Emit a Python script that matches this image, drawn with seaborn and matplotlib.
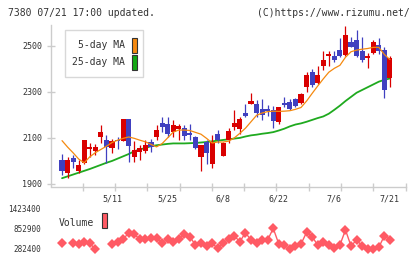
import numpy as np
import pandas as pd
import matplotlib
matplotlib.use("Agg")
import matplotlib.pyplot as plt
import seaborn as sns
from matplotlib.patches import Rectangle

# ---------------- data ----------------
idx = list(range(61))
opens = [2007, 2004, 1949, 2014, 1957, 1989, 2051, 2043, 2104, 2090,
         2054, 2093, 2086, 2181, 2018, 2040, 2044, 2083, 2104, 2166,
         2159, 2126, 2137, 2145, 2122, 2102, 2018, 2083, 1985, 2119,
         2021, 2090, 2148, 2138, 2208, 2249, 2246, 2227, 2227, 2220,
         2167, 2251, 2256, 2270, 2251, 2320, 2385, 2338, 2410, 2454,
         2457, 2483, 2459, 2518, 2526, 2475, 2446, 2467, 2505, 2483, 2361]
highs = [2007, 2030, 2018, 2025, 2004, 2093, 2078, 2072, 2155, 2112,
         2097, 2104, 2181, 2181, 2086, 2068, 2093, 2097, 2155, 2191,
         2191, 2176, 2159, 2158, 2159, 2107, 2068, 2090, 2112, 2133,
         2080, 2141, 2223, 2191, 2249, 2294, 2263, 2267, 2241, 2237,
         2234, 2277, 2270, 2275, 2294, 2385, 2400, 2414, 2475, 2476,
         2475, 2534, 2587, 2536, 2568, 2536, 2467, 2526, 2532, 2493, 2454]
lows = [2007, 1939, 1925, 1968, 1946, 1986, 2018, 2025, 2076, 1992,
        2033, 2050, 2086, 1996, 1996, 2004, 2033, 2037, 2093, 2126,
        2104, 2104, 2090, 2093, 2090, 2051, 1957, 1986, 1970, 2076,
        2021, 2078, 2133, 2119, 2191, 2246, 2191, 2176, 2194, 2143,
        2159, 2234, 2220, 2234, 2249, 2299, 2323, 2335, 2395, 2414,
        2428, 2453, 2456, 2493, 2450, 2431, 2402, 2465, 2465, 2273, 2320]
closes = [2007, 1957, 2004, 1996, 1982, 2090, 2061, 2061, 2126, 2059,
          2086, 2086, 2181, 2065, 2047, 2054, 2068, 2061, 2133, 2148,
          2119, 2155, 2151, 2107, 2112, 2057, 2068, 2033, 2083, 2090,
          2078, 2129, 2165, 2180, 2194, 2259, 2210, 2198, 2217, 2173,
          2234, 2241, 2224, 2237, 2289, 2375, 2328, 2371, 2436, 2462,
          2436, 2457, 2548, 2496, 2457, 2436, 2454, 2518, 2479, 2306, 2446]
ma5 = [np.nan, 2088, 2060, 2035, 2008, 1992, 2018, 2036, 2050, 2064,
       2080, 2090, 2098, 2104, 2098, 2090, 2083, 2072, 2061, 2075,
       2100, 2125, 2134, 2134, 2132, 2124, 2116, 2098, 2078, 2082,
       2082, 2086, 2100, 2120, 2142, 2170, 2198, 2208, 2214, 2216,
       2215, 2216, 2218, 2224, 2232, 2260, 2293, 2325, 2356, 2385,
       2402, 2415, 2450, 2474, 2481, 2485, 2488, 2493, 2493, 2462, 2440]
ma25 = [np.nan, 1925, 1933, 1941, 1949, 1957, 1965, 1974, 1983, 1992,
        2000, 2010, 2020, 2030, 2042, 2050, 2056, 2064, 2068, 2071,
        2074, 2076, 2076, 2076, 2077, 2078, 2080, 2082, 2085, 2088,
        2091, 2094, 2097, 2100, 2106, 2111, 2114, 2118, 2121, 2125,
        2132, 2140, 2150, 2158, 2163, 2170, 2178, 2186, 2193, 2205,
        2222, 2240, 2260, 2278, 2296, 2308, 2320, 2332, 2344, 2352, 2358]
volume = [np.nan, 445000, np.nan, 445000, 425000, 491000, 445000, 274000, np.nan, np.nan,
          425000, 491000, 559000, 747000, 702000, 559000, 559000, 588000, 588000, 462000,
          559000, 491000, 559000, 702000, 633000, 397000, 462000, 368000, 445000, 302000,
          462000, 559000, 653000, 491000, 747000, 539000, 445000, 539000, 539000, 873000,
          425000, 397000, 274000, 368000, 425000, 759000, 633000, 397000, 474000, 397000,
          302000, 397000, 824000, 368000, 539000, 368000, 274000, 274000, 331000, 662000, 539000]
date_pos = [10, 20, 30, 40, 50, 60]
date_labels = ["5/11", "5/25", "6/8", "6/22", "7/6", "7/21"]
price_ticks = [1900, 2100, 2300, 2500]
vol_ticks = [282400, 852900, 1423400]
title_left = "7380 07/21 17:00 updated."
title_right = "(C)https://www.rizumu.net/"
legend_labels = ["5-day MA", "25-day MA"]

# ---------------- style ----------------
sns.set_theme(style="white")
plt.rcParams["font.family"] = ["DejaVu Sans Mono", "DejaVu Sans"]

RED = "#d90000"
BLUE = "#4040c0"
ORANGE = "#f5890f"
GREEN = "#1faa1f"
VOLC = "#ff5a64"
GRID = "#cccccc"
TXT = "#333333"

W, H = 420, 259
fig = plt.figure(figsize=(W / 100, H / 100), dpi=100)
fig.patch.set_facecolor("white")


def fx(x):
    return x / W


def fy(y):
    return 1 - y / H


X0, X1 = 50.7, 405.5
ax = fig.add_axes([fx(X0), fy(186.5), fx(X1) - fx(X0), fy(25) - fy(186.5)])
xl0, xl1 = -1.04, 62.8

df = pd.DataFrame({"i": idx, "o": opens, "h": highs, "l": lows, "c": closes,
                   "ma5": ma5, "ma25": ma25, "vol": volume})
cols = [RED if c >= o else BLUE for o, c in zip(df.o, df.c)]

# wicks & bodies
ax.vlines(df.i, df.l, df.h, colors=cols, lw=0.9, zorder=3)
bottoms = np.minimum(df.o, df.c)
heights = np.maximum(np.abs(df.c - df.o), 3)
ax.bar(df.i, heights, bottom=bottoms, width=0.92, color=cols, lw=0, zorder=4)

# moving averages
sns.lineplot(data=df, x="i", y="ma5", ax=ax, color=ORANGE, lw=0.9, zorder=5)
sns.lineplot(data=df, x="i", y="ma25", ax=ax, color=GREEN, lw=1.3, zorder=2)

ax.set_xlim(xl0, xl1)
ax.set_ylim(1889, 2590)
ax.set_xlabel("")
ax.set_ylabel("")
for s in ["top", "right"]:
    ax.spines[s].set_visible(False)
for s in ["left", "bottom"]:
    ax.spines[s].set_color(GRID)
    ax.spines[s].set_linewidth(1)

ax.set_yticks(price_ticks)
ax.set_yticklabels([str(v) for v in price_ticks])
ax.tick_params(axis="y", direction="inout", length=6, width=1, color=GRID,
               labelsize=6, labelcolor=TXT, pad=3, left=True)
ax.set_xticks(np.linspace(xl0, xl1, 12)[1:])
ax.set_xticklabels([])
ax.tick_params(axis="x", which="major", direction="inout", length=6, width=1,
               color=GRID, bottom=True)
ax.set_xticks(date_pos, minor=True)
ax.set_xticklabels(date_labels, minor=True)
ax.tick_params(axis="x", which="minor", length=0, labelsize=6, labelcolor=TXT,
               pad=6)
ax.grid(False)

# legend box (MA)
def prect(x0, y0, x1, y1, **kw):
    fig.patches.append(Rectangle((fx(x0), fy(y1)), fx(x1) - fx(x0), fy(y0) - fy(y1),
                                 transform=fig.transFigure, figure=fig, **kw))

prect(65, 30, 143.3, 77.3, facecolor="white", edgecolor="#d8d8d8", lw=1, zorder=10)
prect(131.5, 37.5, 137, 52.5, facecolor=ORANGE, edgecolor="#333333", lw=0.8, zorder=11)
prect(131.5, 54.5, 137, 69.5, facecolor="#13a813", edgecolor="#333333", lw=0.8, zorder=11)
fig.text(fx(125), fy(45), legend_labels[0], ha="right", va="center", fontsize=7,
         color=TXT, zorder=12)
fig.text(fx(125), fy(62), legend_labels[1], ha="right", va="center", fontsize=7,
         color=TXT, zorder=12)

# titles
fig.text(fx(8), fy(13), title_left, ha="left", va="center", fontsize=7, color=TXT)
fig.text(fx(410), fy(13), title_right, ha="right", va="center", fontsize=7, color=TXT)

# ---------------- volume panel ----------------
axv = fig.add_axes([fx(X0), fy(255), fx(X1) - fx(X0), fy(203) - fy(255)])
axv.plot(df.i, df.vol, color=VOLC, lw=1, marker="D", markersize=4.8,
         markeredgewidth=0, zorder=3)
axv.set_xlim(xl0, xl1)
axv.set_ylim(111250, 1594550)
for s in axv.spines.values():
    s.set_visible(False)
axv.set_xticks([])
axv.set_yticks(vol_ticks)
axv.set_yticklabels([str(v) for v in vol_ticks])
axv.tick_params(axis="y", length=0, labelsize=5.5, labelcolor=TXT, pad=7)
axv.set_facecolor("none")
axv.grid(False)

fig.text(fx(59), fy(222.5), "Volume", ha="left", va="center", fontsize=7, color=TXT)
prect(101.7, 213.3, 107.3, 228.3, facecolor=VOLC, edgecolor="#333333", lw=0.8, zorder=11)

fig.savefig("out.png", dpi=100, facecolor="white")
